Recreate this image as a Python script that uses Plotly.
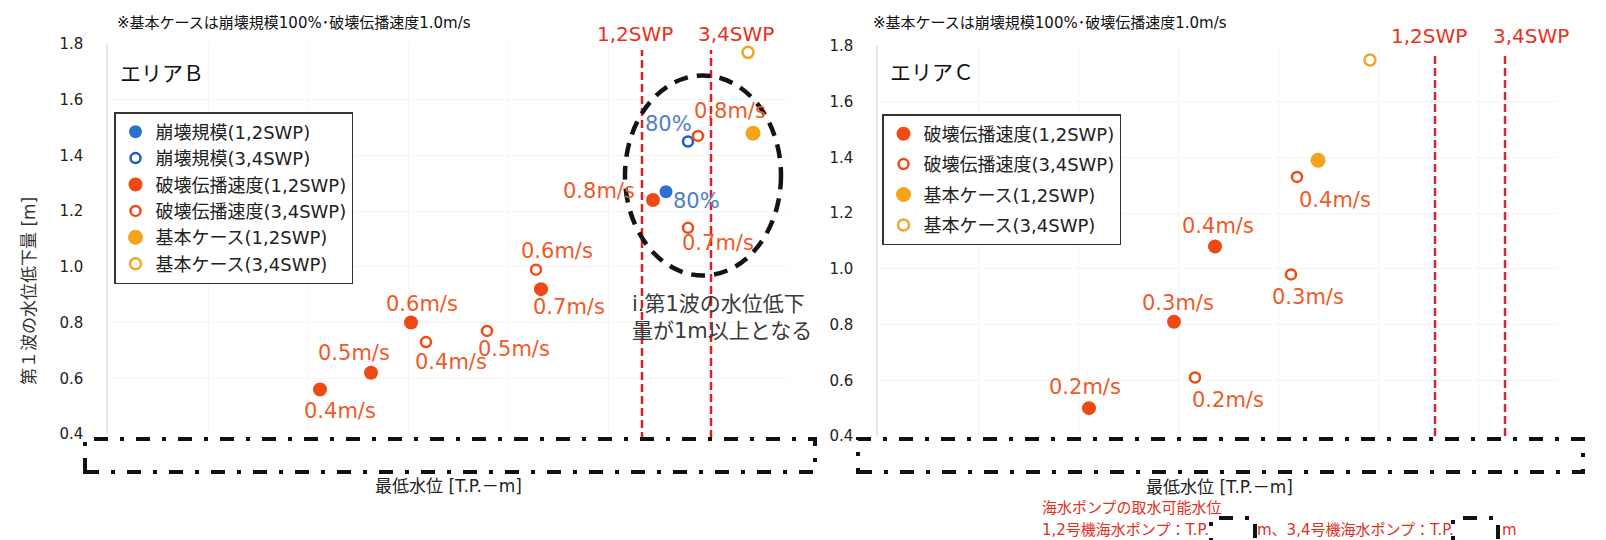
import plotly.graph_objects as go

W, H = 1606, 540
FONT = "DejaVu Sans, Noto Sans CJK JP"

# ---------------- data: エリアB ----------------
b_col12_x = [5.58]
b_col12_y = [1.27]
b_col12_lab = ["80%"]
b_col34_x = [5.80]
b_col34_y = [1.45]
b_col34_lab = ["80%"]
b_spd12_x = [2.12, 2.63, 3.03, 4.33, 5.45]
b_spd12_y = [0.56, 0.62, 0.80, 0.92, 1.24]
b_spd12_lab = ["0.4m/s", "0.5m/s", "0.6m/s", "0.7m/s", "0.8m/s"]
b_spd34_x = [3.18, 3.79, 4.28, 5.80, 5.90]
b_spd34_y = [0.73, 0.77, 0.99, 1.14, 1.47]
b_spd34_lab = ["0.4m/s", "0.5m/s", "0.6m/s", "0.7m/s", "0.8m/s"]
b_base12_x = [6.45]
b_base12_y = [1.48]
b_base34_x = [6.40]
b_base34_y = [1.77]
b_swp12 = 5.34
b_swp34 = 6.03

# ---------------- data: エリアC ----------------
c_spd12_x = [2.11, 2.96, 3.37]
c_spd12_y = [0.50, 0.81, 1.08]
c_spd12_lab = ["0.2m/s", "0.3m/s", "0.4m/s"]
c_spd34_x = [3.17, 4.13, 4.19]
c_spd34_y = [0.61, 0.98, 1.33]
c_spd34_lab = ["0.2m/s", "0.3m/s", "0.4m/s"]
c_base12_x = [4.40]
c_base12_y = [1.39]
c_base34_x = [4.92]
c_base34_y = [1.75]
c_swp12 = 5.57
c_swp34 = 6.27

y_ticks = [0.4, 0.6, 0.8, 1.0, 1.2, 1.4, 1.6, 1.8]
y_ticklabels = ["0.4", "0.6", "0.8", "1.0", "1.2", "1.4", "1.6", "1.8"]

names = {
    "col12": "崩壊規模(1,2SWP)", "col34": "崩壊規模(3,4SWP)",
    "spd12": "破壊伝播速度(1,2SWP)", "spd34": "破壊伝播速度(3,4SWP)",
    "base12": "基本ケース(1,2SWP)", "base34": "基本ケース(3,4SWP)",
}

# label pixel offsets (style)
b_spd12_off = [(20, -22), (-17, 20), (11, 19), (28, -18), (-54, 9)]
b_spd34_off = [(25, -20), (27, -18), (21, 19), (30, -15), (32, 25)]
b_col12_off = [(30, -9)]
b_col34_off = [(-20, 18)]
c_spd12_off = [(-4, 21), (4, 19), (3, 21)]
c_spd34_off = [(33, -22), (17, -23), (38, -23)]

RED = "#f04a14"
RED_T = "#f05a28"
BLUE = "#2f6fd0"
BLUE_O = "#1d5cc0"
BLUE_T = "#4f7fc3"
ORG = "#f5a31a"
ORG_O = "#f5a623"
SWP = "#e8321e"


def px_x(p):
    return p / W


def px_y(p):
    return (H - p) / H


fig = go.Figure()


def add(x, y, name, color, symbol, size, lw, xa, ya, legend, group):
    fig.add_trace(go.Scatter(
        x=x, y=y, mode="markers", name=name, xaxis=xa, yaxis=ya,
        legend=legend, legendgroup=group,
        marker=dict(color=color, symbol=symbol, size=size,
                    line=dict(width=lw, color=color)),
        cliponaxis=False,
    ))


# エリアB traces
add(b_col12_x, b_col12_y, names["col12"], BLUE, "circle", 13, 0, "x", "y", "legend", "b1")
add(b_col34_x, b_col34_y, names["col34"], BLUE_O, "circle-open", 10, 2.5, "x", "y", "legend", "b2")
add(b_spd12_x, b_spd12_y, names["spd12"], RED, "circle", 14, 0, "x", "y", "legend", "b3")
add(b_spd34_x, b_spd34_y, names["spd34"], RED, "circle-open", 10, 2.5, "x", "y", "legend", "b4")
add(b_base12_x, b_base12_y, names["base12"], ORG, "circle", 15, 0, "x", "y", "legend", "b5")
add(b_base34_x, b_base34_y, names["base34"], ORG_O, "circle-open", 11, 2.5, "x", "y", "legend", "b6")

# エリアC traces
add(c_spd12_x, c_spd12_y, names["spd12"], RED, "circle", 14, 0, "x2", "y2", "legend2", "c3")
add(c_spd34_x, c_spd34_y, names["spd34"], RED, "circle-open", 10, 2.5, "x2", "y2", "legend2", "c4")
add(c_base12_x, c_base12_y, names["base12"], ORG, "circle", 15, 0, "x2", "y2", "legend2", "c5")
add(c_base34_x, c_base34_y, names["base34"], ORG_O, "circle-open", 11, 2.5, "x2", "y2", "legend2", "c6")

annotations = []


def labels(xs, ys, labs, offs, xref, yref, color):
    for x, y, t, (dx, dy) in zip(xs, ys, labs, offs):
        annotations.append(dict(
            x=x, y=y, xref=xref, yref=yref, text=t, showarrow=False,
            xshift=dx, yshift=dy, font=dict(family=FONT, size=21, color=color)))


labels(b_spd12_x, b_spd12_y, b_spd12_lab, b_spd12_off, "x", "y", RED_T)
labels(b_spd34_x, b_spd34_y, b_spd34_lab, b_spd34_off, "x", "y", RED_T)
labels(b_col12_x, b_col12_y, b_col12_lab, b_col12_off, "x", "y", BLUE_T)
labels(b_col34_x, b_col34_y, b_col34_lab, b_col34_off, "x", "y", BLUE_T)
labels(c_spd12_x, c_spd12_y, c_spd12_lab, c_spd12_off, "x2", "y2", RED_T)
labels(c_spd34_x, c_spd34_y, c_spd34_lab, c_spd34_off, "x2", "y2", RED_T)


def ptext(x, y, text, size, color, xanchor="center", angle=0, family=FONT):
    annotations.append(dict(
        x=px_x(x), y=px_y(y), xref="paper", yref="paper", text=text,
        showarrow=False, xanchor=xanchor, yanchor="middle", textangle=angle,
        align="left", font=dict(family=family, size=size, color=color)))


note = "※基本ケースは崩壊規模100%･破壊伝播速度1.0m/s"
ptext(107, 15, note, 15, "#111", "left")
ptext(863, 15, note, 15, "#111", "left")
ptext(110, 66, "エリアＢ", 21, "#111", "left")
ptext(880, 65, "エリアＣ", 21, "#111", "left")
ptext(627, 26, "1,2SWP", 20, SWP)
ptext(728, 26, "3,4SWP", 20, SWP)
ptext(1421, 28, "1,2SWP", 20, SWP)
ptext(1523, 28, "3,4SWP", 20, SWP)
ptext(622, 309, "i.第1波の水位低下<br>量が1m以上となる", 21, "#3a3a3a", "left")
ptext(440, 478, "最低水位 [T.P.－m]", 17, "#222")
ptext(1211, 479, "最低水位 [T.P.－m]", 17, "#222")
ptext(21, 283, "第１波の水位低下量 [m]", 17, "#333", angle=-90)
BR = "#e0301e"
ptext(1032, 500, "海水ポンプの取水可能水位", 15, BR, "left")
ptext(1032, 522, "1,2号機海水ポンプ：T.P.", 15, BR, "left")
ptext(1247, 522, "m、3,4号機海水ポンプ：T.P.", 15, BR, "left")
ptext(1492, 522, "m", 15, BR, "left")

shapes = []
# SWP vertical lines
for xv, xr, top, bot, col in [(b_swp12, "x", 42, 432, "#e02020"), (b_swp34, "x", 42, 430, "#e02020"),
                              (c_swp12, "x2", 45, 428, "#cc2a3a"), (c_swp34, "x2", 45, 428, "#cc2a3a")]:
    shapes.append(dict(type="line", xref=xr, yref="paper", x0=xv, x1=xv,
                       y0=px_y(bot), y1=px_y(top),
                       line=dict(color=col, width=2.5, dash="8px,4px")))
# dashed ellipse
shapes.append(dict(type="circle", xref="x", yref="y", x0=5.17, x1=6.73, y0=0.969, y1=1.687,
                   line=dict(color="#141414", width=4.5, dash="14px,9px")))
# masking boxes
for x0, x1, y0, y1 in [(77, 807, 431, 464), (850, 1575, 431, 464),
                       (1203, 1247, 510, 570), (1445, 1490, 510, 570)]:
    shapes.append(dict(type="rect", xref="paper", yref="paper", layer="above",
                       x0=px_x(x0), x1=px_x(x1), y0=px_y(y1), y1=px_y(y0),
                       fillcolor="white",
                       line=dict(color="#111", width=4, dash="14px,12px,4px,12px")))

axis_common = dict(showgrid=True, gridcolor="#f5f5f5", zeroline=False, ticks="",
                   automargin=False)
yaxis_common = dict(axis_common, range=[0.4, 1.8], tickvals=y_ticks, ticktext=y_ticklabels,
                    tickfont=dict(family=FONT, size=15, color="#222"),
                    ticklabelstandoff=20, showline=True, linecolor="#e8e8e8", linewidth=1.5)
xaxis_common = dict(axis_common, range=[0, 6.8], dtick=1, showticklabels=False, showline=False)

fig.update_layout(
    width=W, height=H, template="none",
    margin=dict(l=0, r=0, t=0, b=0),
    paper_bgcolor="white", plot_bgcolor="white",
    font=dict(family=FONT, color="#222"),
    xaxis=dict(xaxis_common, domain=[px_x(100), px_x(780)], anchor="y"),
    yaxis=dict(yaxis_common, domain=[px_y(426), px_y(36)], anchor="x"),
    xaxis2=dict(xaxis_common, domain=[px_x(870), px_x(1550)], anchor="y2"),
    yaxis2=dict(yaxis_common, domain=[px_y(428), px_y(38)], anchor="x2"),
    legend=dict(x=px_x(106), y=px_y(104), xanchor="left", yanchor="top",
                bgcolor="white", bordercolor="#333", borderwidth=1.5,
                font=dict(family=FONT, size=18, color="#222"), tracegroupgap=0,
                itemclick=False),
    legend2=dict(x=px_x(874), y=px_y(106), xanchor="left", yanchor="top",
                 bgcolor="white", bordercolor="#333", borderwidth=1.5,
                 font=dict(family=FONT, size=18, color="#222"), tracegroupgap=4,
                 itemclick=False),
    showlegend=True,
    annotations=annotations,
    shapes=shapes,
)

fig.write_html("out.html")
